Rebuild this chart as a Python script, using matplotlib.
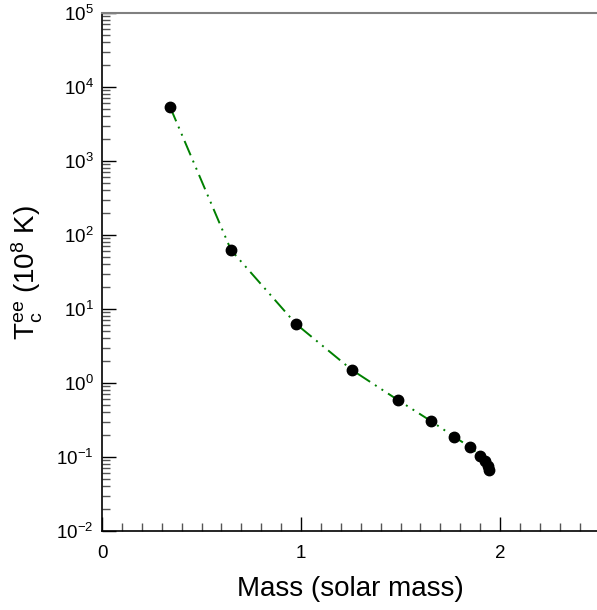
import matplotlib
matplotlib.use('Agg')
import matplotlib.pyplot as plt
from matplotlib.ticker import MultipleLocator, LogLocator, NullFormatter

plt.rcParams['font.family'] = ['Liberation Sans', 'DejaVu Sans']
plt.rcParams['mathtext.fontset'] = 'custom'
plt.rcParams['mathtext.rm'] = 'Liberation Sans'
plt.rcParams['mathtext.it'] = 'Liberation Sans:italic'

# mass (solar mass) vs central temperature (1e8 K)
mass = [0.342, 0.648, 0.975, 1.256, 1.487, 1.653, 1.770, 1.851, 1.901, 1.926, 1.940, 1.945]
temp = [5370, 62.7, 6.27, 1.50, 0.589, 0.306, 0.188, 0.135, 0.104, 0.0875, 0.0755, 0.0667]

fig = plt.figure(figsize=(5.97, 6.10), dpi=100)
ax = fig.add_axes([0.1709, 0.1295, 0.8333, 0.8492])

ax.plot(mass, temp, color='green', lw=1.4, ls=(0, (8, 3, 1, 3, 1, 3)), zorder=2)
ax.plot(mass, temp, 'o', color='black', ms=7.5, zorder=3)

ax.set_yscale('log')
ax.set_xlim(0, 2.5)
ax.set_ylim(1e-2, 1e5)

ax.xaxis.set_major_locator(MultipleLocator(1))
ax.xaxis.set_minor_locator(MultipleLocator(0.1))
ax.yaxis.set_major_locator(LogLocator(base=10, numticks=20))
ax.yaxis.set_minor_locator(LogLocator(base=10, subs=range(2, 10), numticks=20))
ax.yaxis.set_minor_formatter(NullFormatter())

ax.tick_params(which='both', direction='in', labelsize=13.5, top=False, right=False)
ax.tick_params(which='major', length=10, width=1)
ax.tick_params(which='minor', length=6, width=1, color='#555555')
ax.tick_params(axis='x', pad=10)
ax.tick_params(axis='y', pad=6)

ax.spines['right'].set_visible(False)
ax.spines['top'].set_color('#808080')
ax.spines['top'].set_linewidth(1.5)
ax.spines['left'].set_linewidth(1.2)
ax.spines['bottom'].set_linewidth(1.2)

ax.set_xlabel('Mass (solar mass)', fontsize=20, labelpad=10)
ax.set_ylabel(r'T$_\mathrm{c}^\mathrm{ee}$ (10$^8$ K)', fontsize=20, labelpad=8)

fig.savefig('out.png', dpi=100)
